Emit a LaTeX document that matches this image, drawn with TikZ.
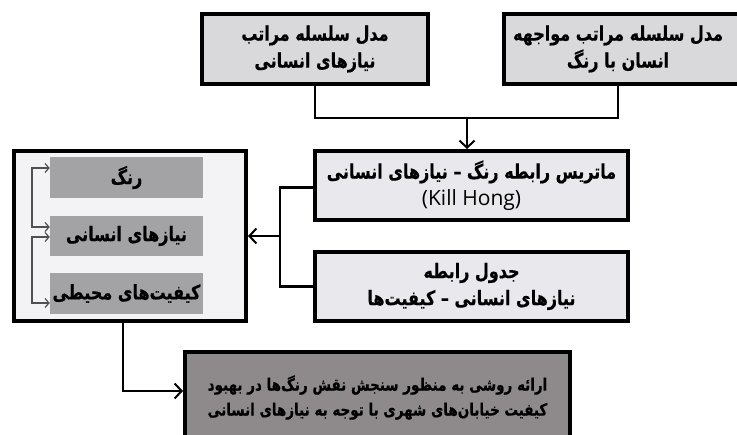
\documentclass[tikz,border=0pt]{standalone}
\usepackage{graphicx}
\usepackage{fontspec}
\setmainfont{DejaVu Sans}
\newfontfamily\fa[Script=Arabic, BoldFeatures={FakeBold=0.6}]{DejaVu Sans}
\newfontfamily\lat{Open Sans}
\TeXXeTstate=1
\usetikzlibrary{arrows.meta}
\newcommand{\RL}[1]{\scalebox{1}[1.25]{\beginR #1\endR}}
\definecolor{topgray}{HTML}{D9D9DC}
\definecolor{midgray}{HTML}{E9E8ED}
\definecolor{lightbg}{HTML}{F3F3F6}
\definecolor{innergray}{HTML}{A3A3A6}
\definecolor{botgray}{HTML}{8E8A8B}
\definecolor{thinline}{HTML}{505050}
\tikzset{
  boxbase/.style={draw=black, line width=4pt, inner sep=0pt, align=center,
    font=\fa\bfseries\fontsize{16}{27}\selectfont},
  topbox/.style={boxbase, fill=topgray},
  midbox/.style={boxbase, fill=midgray},
  bigbox/.style={boxbase, fill=lightbg},
  innerbox/.style={inner sep=0pt, fill=innergray, align=center,
    font=\fa\bfseries\fontsize{16}{24}\selectfont},
  botbox/.style={boxbase, fill=botgray, font=\fa\bfseries\fontsize{13.5}{25}\selectfont},
  conn/.style={line width=2.5pt, draw=black},
  tipconn/.style={conn, -{Straight Barb[length=7pt,width=15pt,line width=2pt]}},
  thinconn/.style={line width=1.2pt, draw=thinline,
    {Straight Barb[length=4pt,width=9pt]}-{Straight Barb[length=4pt,width=9pt]}}
}
\begin{document}
\begin{tikzpicture}[x=1pt,y=-1pt]
\useasboundingbox (0,0) rectangle (737,435);
\clip (0,0) rectangle (737,435);
% top boxes
\node[topbox, minimum width=226pt, minimum height=70pt] (b1) at (315,49)
  {\RL{مدل سلسله مراتب}\\ \RL{نیازهای انسانی}};
\node[topbox, minimum width=236pt, minimum height=70pt] (b2) at (622,49) {};
\node[font=\fa\bfseries\fontsize{16}{27}\selectfont, align=center] (b2t) at (618,49)
  {\RL{مدل سلسله مراتب مواجهه}\\ \RL{انسان با رنگ}};
% middle boxes
\node[midbox, minimum width=313pt, minimum height=69pt] (mat) at (471.5,185.5)
  {\RL{ماتریس رابطه رنگ – نیازهای انسانی}\\ {\lat\mdseries\fontsize{21}{27}\selectfont(Kill Hong)}};
\node[midbox, minimum width=313pt, minimum height=69pt] (tab) at (471.5,286.5)
  {\RL{جدول رابطه}\\ \RL{نیازهای انسانی – کیفیت‌ها}};
% left big box
\node[bigbox, minimum width=232pt, minimum height=170pt] (big) at (130,236) {};
\node[innerbox, minimum width=153pt, minimum height=41pt] (in1) at (126.5,177.5) {\RL{رنگ}};
\node[innerbox, minimum width=153pt, minimum height=40pt] (in2) at (126.5,236) {\RL{نیازهای انسانی}};
\node[innerbox, minimum width=153pt, minimum height=41pt] (in3) at (126.5,293.5) {\RL{کیفیت‌های محیطی}};
% bottom box
\node[botbox, minimum width=385pt, minimum height=91pt] (bot) at (377.5,397.5)
  {\RL{ارائه روشی به منظور سنجش نقش رنگ‌ها در بهبود}\\ \RL{کیفیت خیابان‌های شهری با توجه به نیازهای انسانی}};
% connectors top
\coordinate (j) at (467,118);
\draw[conn] (b1.south) -- (b1.south |- j) -- ([xshift=-4pt]b2.south |- j) -- ([xshift=-4pt]b2.south);
\draw[tipconn] (j) -- (j |- mat.north);
% connectors middle
\coordinate (k) at (280,236);
\draw[conn] ([yshift=-2pt]mat.west) -| (k) |- (tab.west);
\draw[tipconn] (k) -- (big.east);
% inner arrows
\coordinate (c1) at (32,168);
\coordinate (c2) at (32,227);
\coordinate (c3) at (32,237);
\coordinate (c4) at (32,303);
\draw[thinconn] (c1 -| in1.west) -- (c1) -- (c2) -- (c2 -| in2.west);
\draw[thinconn] (c3 -| in2.west) -- (c3) -- (c4) -- (c4 -| in3.west);
% bottom connector
\coordinate (m) at (123,391);
\draw[tipconn] (m |- big.south) -- (m) -- (m -| bot.west);
\end{tikzpicture}
\end{document}
